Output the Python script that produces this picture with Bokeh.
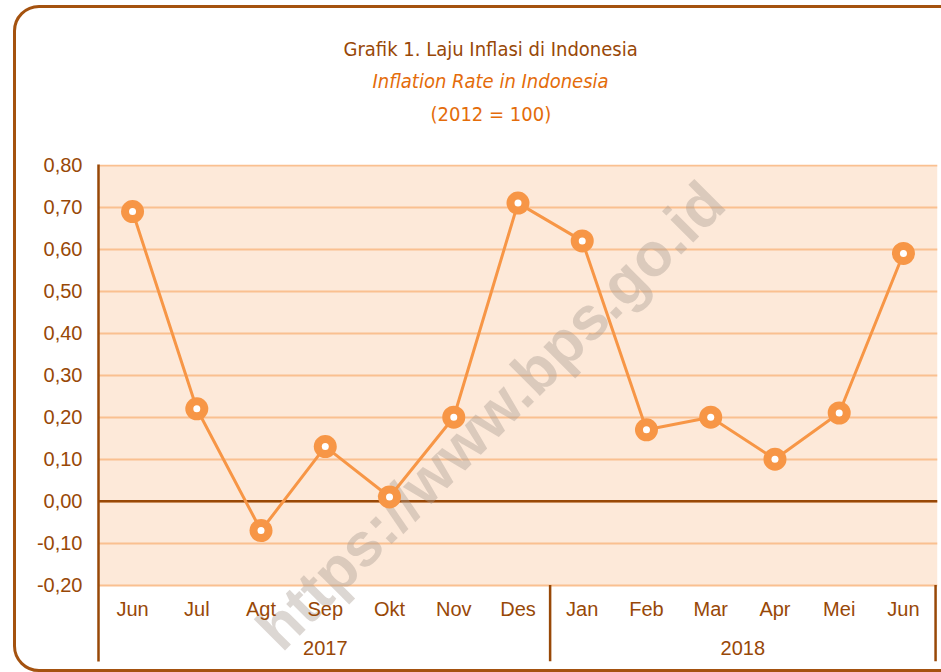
from bokeh.plotting import figure
from bokeh.models import (FactorRange, Range1d, FixedTicker, ColumnDataSource,
                          BoxAnnotation, Span, Label, Title, InlineStyleSheet)
from bokeh.core.properties import value
from bokeh.embed import file_html
from bokeh.resources import INLINE

# ---------------- data ----------------
years = ["2017"] * 7 + ["2018"] * 6
months = ["Jun", "Jul", "Agt", "Sep", "Okt", "Nov", "Des",
          "Jan", "Feb", "Mar", "Apr", "Mei", "Jun"]
inflation = [0.69, 0.22, -0.07, 0.13, 0.01, 0.20, 0.71,
             0.62, 0.17, 0.20, 0.10, 0.21, 0.59]
y_ticks = [-0.2, -0.1, 0.0, 0.1, 0.2, 0.3, 0.4, 0.5, 0.6, 0.7, 0.8]
y_tick_labels = ["-0,20", "-0,10", "0,00", "0,10", "0,20", "0,30",
                 "0,40", "0,50", "0,60", "0,70", "0,80"]
title_main = "Grafik 1. Laju Inflasi di Indonesia"
title_en = "Inflation Rate in Indonesia"
title_base = "(2012 = 100)"
watermark = "https://www.bps.go.id"

# ---------------- styles ----------------
BROWN = "#984807"
BORDER = "#A4520F"
ORANGE = "#F79646"
TITLE_ORANGE = "#E46C0A"
PINK = "#FDE9D9"
GRID = "#FAC090"
NARROW = "DejaVu Sans Condensed"
SANS = "Liberation Sans"
TSIZE = "20px"

factors = list(zip(years, months))
year_groups = list(dict.fromkeys(years))
separators = [(years[i], months[i], 0.5) for i in range(len(years))
              if i == len(years) - 1 or years[i + 1] != years[i]]

p = figure(width=941, height=672,
           x_range=FactorRange(*factors, factor_padding=0, group_padding=0,
                               range_padding=0.03, range_padding_units="absolute"),
           y_range=Range1d(-0.382, 0.802),
           output_backend="svg", toolbar_location=None,
           x_axis_location=None,
           min_border_left=98, min_border_right=4,
           min_border_top=164, min_border_bottom=11,
           background_fill_color="white", border_fill_color="white",
           outline_line_color=None)

p.xgrid.visible = False
p.ygrid.grid_line_color = GRID
p.ygrid.grid_line_width = 2

yax = p.yaxis[0]
yax.ticker = FixedTicker(ticks=y_ticks)
yax.major_label_overrides = {t: l for t, l in zip(y_ticks, y_tick_labels)}
yax.axis_line_color = BROWN
yax.axis_line_width = 2.5
yax.major_tick_line_color = None
yax.minor_tick_line_color = None
yax.major_tick_out = 0
yax.major_tick_in = 0
yax.minor_tick_out = 0
yax.minor_tick_in = 0
yax.major_label_standoff = 16
yax.major_label_text_font = SANS
yax.major_label_text_font_size = "20px"
yax.major_label_text_color = BROWN

# plot-area background band
p.add_layout(BoxAnnotation(bottom=y_ticks[0], top=y_ticks[-1], fill_color=PINK,
                           fill_alpha=1, line_color=None, level="image"))
# zero line
p.add_layout(Span(location=0, dimension="width", line_color=BROWN,
                  line_width=2.5, level="underlay"))

# watermark
p.add_layout(Label(x=392, y=246, x_units="screen", y_units="screen",
                   text=watermark, angle=45, angle_units="deg",
                   text_align="center", text_baseline="middle",
                   text_font=SANS, text_font_style="bold", text_font_size="61px",
                   text_color="#A89A90", text_alpha=0.40, level="underlay"))

src = ColumnDataSource(dict(x=factors, y=inflation, m=months))
p.line("x", "y", source=src, line_color=ORANGE, line_width=3)
p.scatter("x", "y", source=src, size=23, fill_color=ORANGE, line_color=None)
p.scatter("x", "y", source=src, size=7, fill_color="white", line_color=None)

# category labels (months) and group labels (years)
p.text(x="x", y=-0.257, text="m", source=src, text_font=value(SANS),
       text_font_size="20px", text_color=BROWN, text_align="center",
       text_baseline="middle")
p.text(x=year_groups, y=-0.35, text=year_groups, text_font=value(SANS),
       text_font_size="20px", text_color=BROWN, text_align="center",
       text_baseline="middle")
p.segment(x0=separators, y0=y_ticks[0], x1=separators, y1=-0.382,
          line_color=BROWN, line_width=2.5)

# titles: added "above" items stack outward from the plot; p.title is outermost
p.add_layout(Title(text=" ", text_font_size="1px", standoff=35), "above")  # spacer
p.add_layout(Title(text=title_base, align="left", offset=332, standoff=2,
                   text_font=NARROW, text_font_size=TSIZE,
                   text_font_style="normal", text_color=TITLE_ORANGE), "above")
p.add_layout(Title(text=title_en, align="left", offset=274, standoff=12,
                   text_font=NARROW, text_font_size=TSIZE,
                   text_font_style="italic", text_color=TITLE_ORANGE), "above")
p.title.text = title_main
p.title.align = "left"
p.title.offset = 245
p.title.standoff = 0
p.title.text_font = NARROW
p.title.text_font_size = TSIZE
p.title.text_font_style = "normal"
p.title.text_color = BROWN

# rounded outer border of the panel
p.stylesheets = [InlineStyleSheet(css=f"""
:host {{ position: relative; overflow: hidden; }}
:host::after {{
  content: ""; position: absolute; left: 13px; top: 5px; right: -40px; bottom: 0px;
  border: 3px solid {BORDER};
  border-radius: 26px;
  pointer-events: none; box-sizing: border-box; z-index: 10;
}}
""")]

open("out.html", "w").write(file_html(p, INLINE))
